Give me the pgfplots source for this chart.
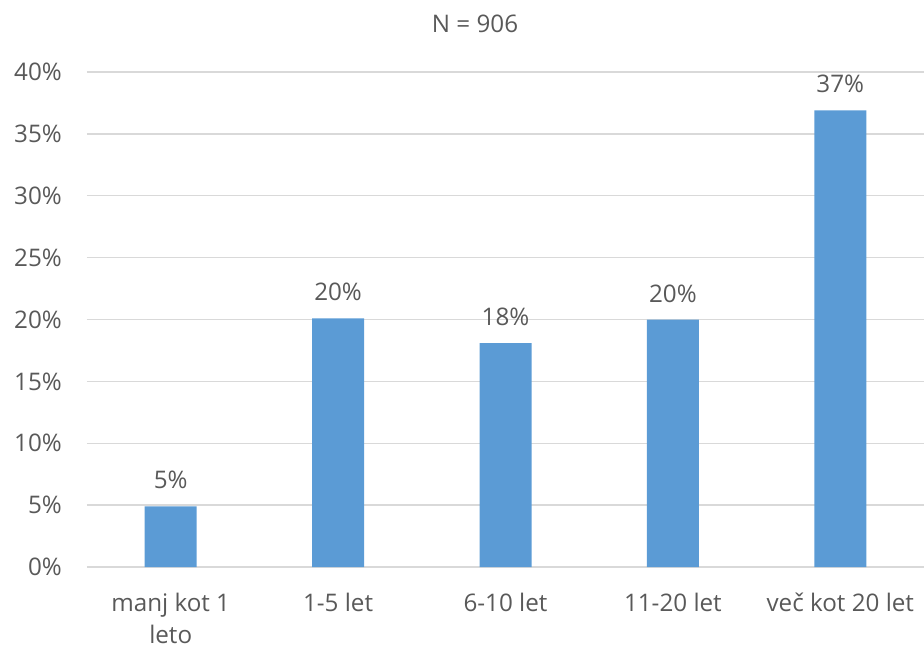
\documentclass[border=0pt]{standalone}
\usepackage{fontspec}
\setmainfont{Open Sans}
\usepackage{pgfplots}
\pgfplotsset{compat=1.18}
\definecolor{barblue}{HTML}{5B9BD5}
\definecolor{txtgray}{HTML}{595959}
\definecolor{gridgray}{HTML}{D9D9D9}
\newcommand{\lblfont}{\fontsize{24.3}{32.5}\selectfont}
\begin{document}
\begin{tikzpicture}
\useasboundingbox (-87bp,-80bp) rectangle (837bp,567bp);
\begin{axis}[
    at={(0,0)}, anchor=south west,
    width=837bp, height=495bp, scale only axis,
    xmin=-0.5, xmax=4.5,
    ymin=0, ymax=40,
    axis line style={draw=none},
    tick style={draw=none},
    ymajorgrids=true,
    grid style={gridgray, line width=1.3bp},
    ytick={0,5,...,40},
    yticklabels={0\%,5\%,10\%,15\%,20\%,25\%,30\%,35\%,40\%},
    xtick={0,1,2,3,4},
    xticklabels={{manj kot 1\\leto},{1-5 let},{6-10 let},{11-20 let},{več kot 20 let}},
    yticklabel style={font=\lblfont, text=txtgray, anchor=east, inner sep=0pt, xshift=-25bp},
    xticklabel style={font=\lblfont, text=txtgray, align=center, anchor=north, inner sep=0pt, yshift=-26bp},
    /pgf/number format/assume math mode=true,
]
\addplot[ybar, bar width=52bp, fill=barblue, draw=none,
    nodes near coords={\pgfmathprintnumber[fixed,precision=0]{\pgfplotspointmeta}\%},
    nodes near coords style={font=\lblfont, text=txtgray, anchor=south, inner sep=0pt, yshift=17bp},
] coordinates {(0,4.9) (1,20.1) (2,18.1) (3,20.0) (4,36.9)};
\end{axis}
\node[font=\lblfont, text=txtgray, inner sep=0pt] at (388bp,543bp) {N = 906};
\end{tikzpicture}
\end{document}
